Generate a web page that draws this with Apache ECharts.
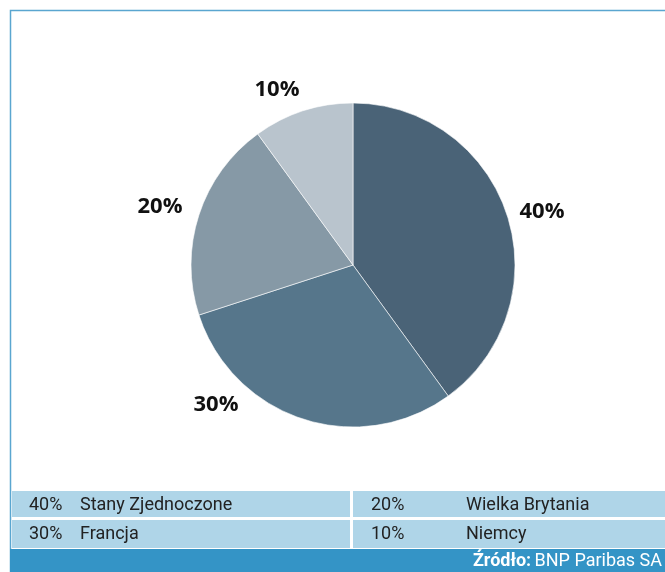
<!DOCTYPE html>
<html>
<head>
<meta charset="utf-8">
<script src="https://cdn.jsdelivr.net/npm/echarts@6/dist/echarts.min.js"></script>
<style>html,body{margin:0;padding:0;background:#fff}#c{width:665px;height:572px}</style>
</head>
<body>
<div id="c"></div>
<script>
const categories = ['Stany Zjednoczone', 'Francja', 'Wielka Brytania', 'Niemcy'];
const values = [40, 30, 20, 10];
const labels = ['40%', '30%', '20%', '10%'];
const colors = ['#4a6377', '#56768b', '#8699a6', '#b9c4cd'];
const source = 'BNP Paribas SA';

const chart = echarts.init(document.getElementById('c'));
const labelPos = [[542, 212], [216, 405], [160, 207], [277, 90]];

const tableFont = 'Roboto, sans-serif';
const graphics = [
  { type: 'rect', shape: { x: 10.5, y: 10.5, width: 700, height: 600 }, style: { fill: 'none', stroke: '#5aa6d0', lineWidth: 1.5 }, z: 0 },
  { type: 'rect', shape: { x: 12, y: 491, width: 660, height: 26 }, style: { fill: '#afd5e8' } },
  { type: 'rect', shape: { x: 12, y: 520, width: 660, height: 28 }, style: { fill: '#afd5e8' } },
  { type: 'rect', shape: { x: 350, y: 491, width: 3, height: 57 }, style: { fill: '#ffffff' } },
  { type: 'rect', shape: { x: 10, y: 549, width: 660, height: 30 }, style: { fill: '#3494c6' } }
];
const cells = [
  [labels[0], categories[0], 29, 80, 505],
  [labels[1], categories[1], 29, 80, 534],
  [labels[2], categories[2], 371, 466, 505],
  [labels[3], categories[3], 371, 466, 534]
];
cells.forEach(c => {
  graphics.push({ type: 'text', x: c[2], y: c[4], style: { text: c[0], font: '18px ' + tableFont, fill: '#222', textVerticalAlign: 'middle' } });
  graphics.push({ type: 'text', x: c[3], y: c[4], style: { text: c[1], font: '18px ' + tableFont, fill: '#222', textVerticalAlign: 'middle' } });
});
graphics.push({
  type: 'text', x: 662, y: 561,
  style: {
    text: '{b|Źródło:} {n|' + source + '}',
    align: 'right', verticalAlign: 'middle',
    rich: {
      b: { font: 'bold 18px ' + tableFont, fill: '#fff', color: '#fff' },
      n: { font: '18px ' + tableFont, fill: '#fff', color: '#fff' }
    }
  }
});

chart.setOption({
  animation: false,
  graphic: graphics,
  series: [{
    type: 'pie',
    center: [353, 265],
    radius: 162,
    startAngle: 90,
    clockwise: true,
    data: categories.map((n, i) => ({ name: n, value: values[i], itemStyle: { color: colors[i] } })),
    itemStyle: { borderColor: '#ffffff', borderWidth: 0.6 },
    label: {
      show: true,
      position: 'outside',
      formatter: p => labels[p.dataIndex],
      fontFamily: '"Open Sans", sans-serif',
      fontWeight: 'bold',
      fontSize: 22,
      color: '#111'
    },
    labelLine: { show: false },
    labelLayout: p => ({ x: labelPos[p.dataIndex][0], y: labelPos[p.dataIndex][1], align: 'center', verticalAlign: 'middle' }),
    emphasis: { disabled: true }
  }]
});
</script>
</body>
</html>
